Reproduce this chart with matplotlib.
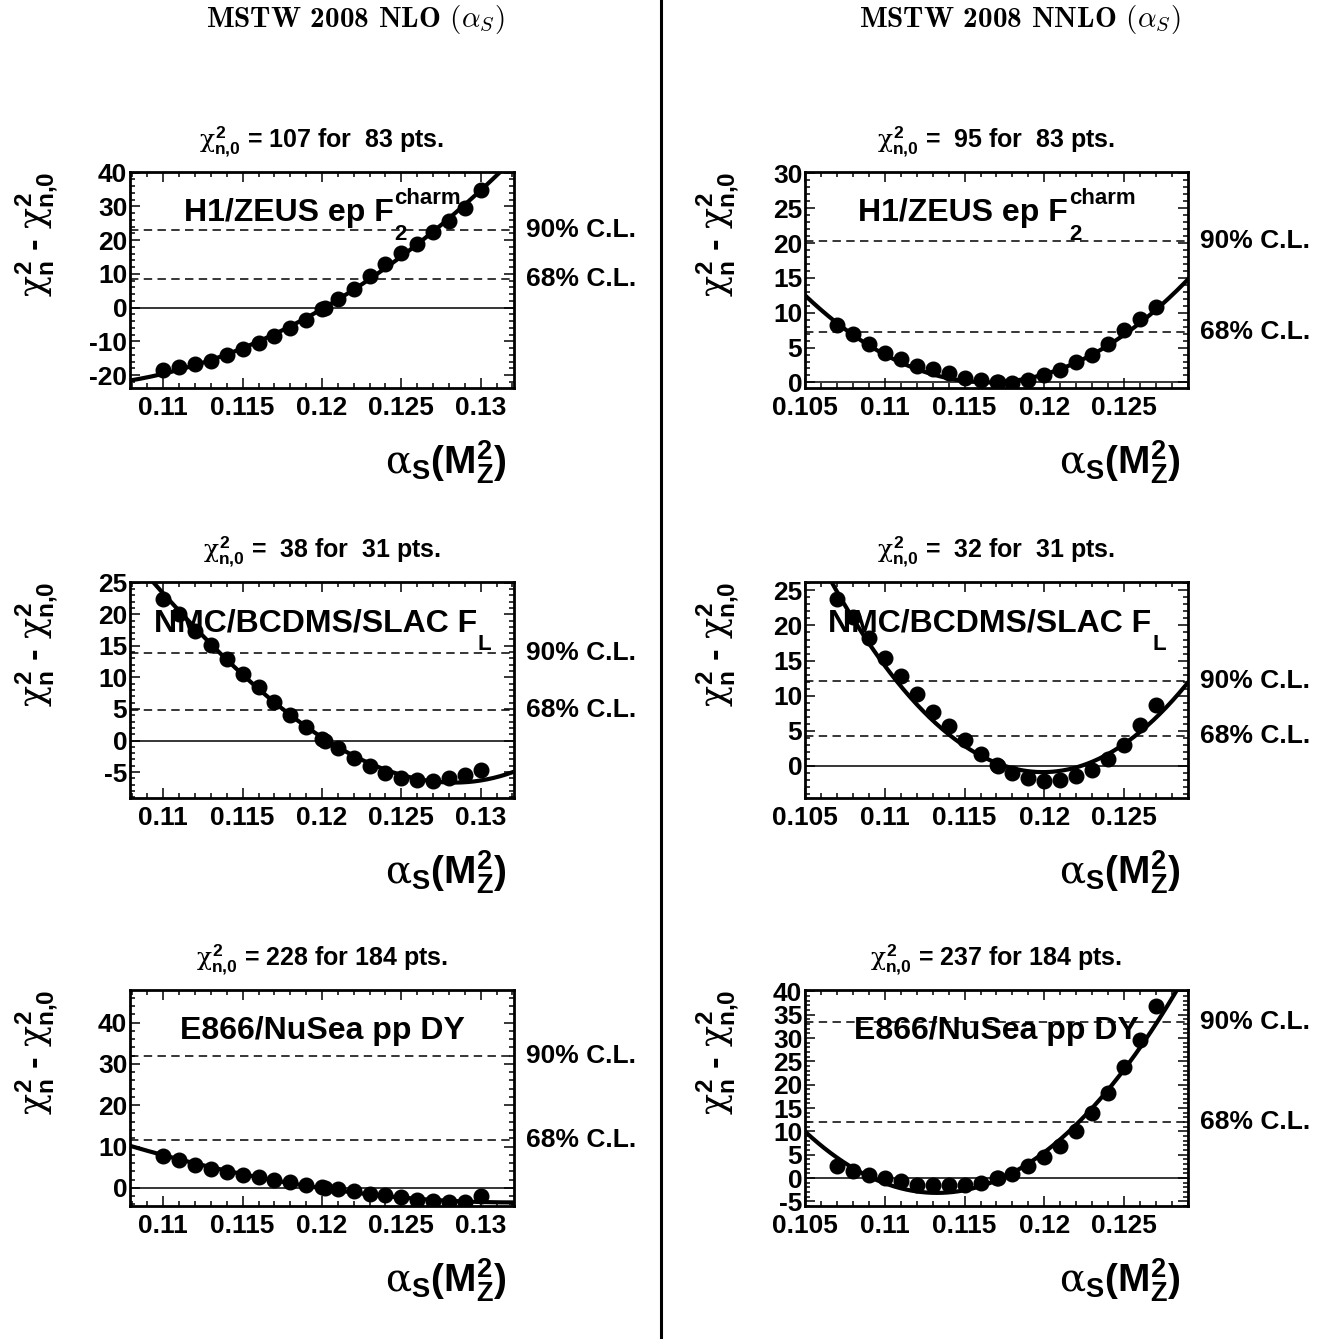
import numpy as np
import matplotlib
matplotlib.use('Agg')
import matplotlib.pyplot as plt
from matplotlib.ticker import MultipleLocator, FixedLocator, FixedFormatter
from matplotlib.transforms import IdentityTransform

plt.rcParams['font.family'] = ['Liberation Sans', 'DejaVu Sans']
plt.rcParams['font.weight'] = 'bold'
plt.rcParams['mathtext.fontset'] = 'custom'
plt.rcParams['mathtext.rm'] = 'Liberation Sans:bold'
plt.rcParams['mathtext.bf'] = 'Liberation Sans:bold'
plt.rcParams['mathtext.sf'] = 'Liberation Sans:bold'
plt.rcParams['mathtext.it'] = 'DejaVu Serif:weight=normal:style=normal'
plt.rcParams['axes.unicode_minus'] = False

# alpha_S scan points (best fit value included)
nlo_alpha = [0.110, 0.111, 0.112, 0.113, 0.114, 0.115, 0.116, 0.117, 0.118, 0.119,
             0.120, 0.1202, 0.121, 0.122, 0.123, 0.124, 0.125, 0.126, 0.127, 0.128,
             0.129, 0.130]
nnlo_alpha = [0.107, 0.108, 0.109, 0.110, 0.111, 0.112, 0.113, 0.114, 0.115, 0.116,
              0.117, 0.1171, 0.118, 0.119, 0.120, 0.121, 0.122, 0.123, 0.124, 0.125,
              0.126, 0.127]

# delta chi2 values
nlo_h1 = [-18.5, -17.7, -16.7, -15.8, -14.1, -12.3, -10.6, -8.4, -5.9, -3.6,
          -0.5, 0.0, 2.7, 5.6, 9.4, 12.8, 16.1, 19.0, 22.4, 25.8, 29.4, 35.0]
nnlo_h1 = [8.2, 6.9, 5.5, 4.2, 3.4, 2.4, 1.9, 1.3, 0.7, 0.3,
           0.1, 0.0, -0.1, 0.4, 1.0, 1.8, 2.9, 3.9, 5.5, 7.5, 9.1, 10.8]
nlo_fl = [22.4, 20.1, 17.4, 15.2, 12.9, 10.6, 8.5, 6.1, 4.1, 2.1,
          0.2, 0.0, -1.2, -2.8, -4.1, -5.1, -5.9, -6.2, -6.4, -5.9, -5.4, -4.7]
nnlo_fl = [23.8, 21.2, 18.2, 15.4, 12.8, 10.2, 7.7, 5.6, 3.6, 1.7,
           0.1, 0.0, -1.0, -1.8, -2.2, -2.1, -1.5, -0.6, 0.9, 3.0, 5.8, 8.7]
nlo_dy = [7.8, 6.8, 5.6, 4.6, 3.9, 3.2, 2.6, 2.0, 1.4, 0.8,
          0.2, 0.0, -0.4, -0.8, -1.4, -1.8, -2.2, -3.0, -3.2, -3.4, -3.4, -2.0]
nnlo_dy = [2.5, 1.4, 0.6, 0.0, -0.7, -1.4, -1.6, -1.6, -1.4, -1.1,
           0.1, 0.0, 0.9, 2.5, 4.4, 6.8, 10.1, 13.9, 18.2, 23.9, 29.6, 36.8]

# samples
nlo_h1_cx = [0.108, 0.115, 0.1202, 0.125, 0.131]
nlo_h1_cy = [-21.4, -12.2, 0.0, 15.6, 39.0]
nnlo_h1_cx = [0.105, 0.110, 0.1165, 0.123, 0.129]
nnlo_h1_cy = [12.5, 4.0, 0.0, 4.0, 14.8]
nlo_fl_cx = [0.1093, 0.115, 0.1202, 0.125, 0.1275, 0.132]
nlo_fl_cy = [25.2, 10.6, 0.0, -5.6, -6.3, -5.1]
nnlo_fl_cx = [0.1066, 0.113, 0.120, 0.125, 0.129]
nnlo_fl_cy = [26.4, 6.6, -0.9, 2.9, 12.0]
nlo_dy_cx = [0.108, 0.114, 0.1202, 0.126, 0.1318]
nlo_dy_cy = [10.1, 4.0, 0.0, -2.8, -3.5]
nnlo_dy_cx = [0.105, 0.1133, 0.120, 0.125, 0.1285]
nnlo_dy_cy = [10.1, -3.4, 5.0, 24.6, 40.7]

chi2_nlo = [107, 38, 228]
chi2_nnlo = [95, 32, 237]
npts = [83, 31, 184]
cl90_nlo = [22.9, 13.8, 32.0]
cl68_nlo = [8.4, 4.8, 11.5]
cl90_nnlo = [20.3, 12.1, 33.4]
cl68_nnlo = [7.3, 4.2, 12.0]
# dataset name: base text, superscript, subscript
names = [('H1/ZEUS ep F', 'charm', '2'),
         ('NMC/BCDMS/SLAC F', None, 'L'),
         ('E866/NuSea pp DY', None, None)]

nlo_xticks = [0.11, 0.115, 0.12, 0.125, 0.13]
nlo_xlabels = ['0.11', '0.115', '0.12', '0.125', '0.13']
nnlo_xticks = [0.105, 0.11, 0.115, 0.12, 0.125]
nnlo_xlabels = ['0.105', '0.11', '0.115', '0.12', '0.125']

W, H = 1333, 1339
fig = plt.figure(figsize=(W / 100, H / 100), dpi=100)
renderer = fig.canvas.get_renderer()


def text_width(s, size):
    t = fig.text(0, 0, s, fontsize=size, fontweight='bold')
    w = t.get_window_extent(renderer).width
    t.remove()
    return w


def dataset_label(ax, yfrac, base, sup, sub, size=23, ssize=16):
    # ROOT style label: superscript high, subscript low, all centred
    wb = text_width(base, size)
    ws = max(text_width(sup, ssize) if sup else 0,
             text_width(sub, ssize) if sub else 0)
    cx, cy = ax.transAxes.transform((0.5, yfrac))
    x0 = cx - (wb + ws) / 2
    kw = dict(transform=IdentityTransform(), ha='left', va='baseline',
              fontweight='bold')
    fig.text(x0, cy, base, fontsize=size, **kw)
    if sup:
        fig.text(x0 + wb + 1, cy + 17, sup, fontsize=ssize, **kw)
    if sub:
        fig.text(x0 + wb + 1, cy - 19, sub, fontsize=ssize, **kw)


def panel(rect, alpha, dchi, cx, cy, deg, chi0, n, name, c90, c68,
          xlim, ylim, xt, xl, ymaj, ymin, ylab_off):
    ax = fig.add_axes(rect)
    ax.set_xlim(*xlim)
    ax.set_ylim(*ylim)
    ax.axhline(0, color='black', lw=1.1, zorder=1)
    for c in (c90, c68):
        ax.axhline(c, color='black', lw=1.1, ls=(0, (5.5, 3.5)), zorder=1)
    coef = np.polyfit(cx, cy, deg)
    xs = np.linspace(xlim[0], xlim[1], 300)
    ax.plot(xs, np.polyval(coef, xs), color='black', lw=3.0, zorder=2)
    ax.plot(alpha, dchi, 'o', color='black', ms=10.5, zorder=3)

    ax.xaxis.set_major_locator(FixedLocator(xt))
    ax.xaxis.set_major_formatter(FixedFormatter(xl))
    ax.xaxis.set_minor_locator(MultipleLocator(0.001))
    ax.yaxis.set_major_locator(MultipleLocator(ymaj))
    ax.yaxis.set_minor_locator(MultipleLocator(ymin))
    ax.yaxis.set_major_formatter(matplotlib.ticker.FormatStrFormatter('%d'))
    ax.tick_params(which='both', direction='in', top=True, right=True,
                   width=1.1, labelsize=19)
    ax.tick_params(which='major', length=7)
    ax.tick_params(which='minor', length=3.6)
    ax.tick_params(axis='x', pad=6)
    ax.tick_params(axis='y', pad=2)
    for lab in ax.get_xticklabels() + ax.get_yticklabels():
        lab.set_fontweight('bold')
    for s in ax.spines.values():
        s.set_linewidth(2.0)

    ax.annotate(r'$\chi^{2}_{\mathrm{n{,}0}}$' + ' = %3d for %3d pts.' % (chi0, n),
                xy=(0.5, 1.0), xycoords='axes fraction', xytext=(0, 17),
                textcoords='offset points', ha='center', va='baseline',
                fontsize=18, fontweight='bold')
    dataset_label(ax, 0.772, *name)
    for c, t in ((c90, '90% C.L.'), (c68, '68% C.L.')):
        ax.annotate(t, xy=(1.0, c), xycoords=('axes fraction', 'data'),
                    xytext=(9, 0), textcoords='offset points', ha='left',
                    va='center', fontsize=19, fontweight='bold',
                    annotation_clip=False)
    ax.annotate(r'$\alpha_{\mathrm{S}}$(M$^{2}_{\mathrm{Z}}$)', xy=(1.0, 0.0),
                xycoords='axes fraction', xytext=(-5, -62),
                textcoords='offset points', ha='right', va='baseline',
                fontsize=28, fontweight='bold')
    ax.annotate(r'$\chi^{2}_{\mathrm{n}}$ - $\chi^{2}_{\mathrm{n{,}0}}$',
                xy=(0.0, 1.0), xycoords='axes fraction', xytext=(ylab_off, 0),
                textcoords='offset points', ha='center', va='top',
                rotation=90, fontsize=25, fontweight='bold')
    return ax


row_tops = [172, 582, 990]
ah = 216
lx, lw_ = 130, 384
rx, rw = 805, 383

nlo_sets = [(nlo_h1, nlo_h1_cx, nlo_h1_cy, 2, (-23.8, 40.2), 10, 2),
            (nlo_fl, nlo_fl_cx, nlo_fl_cy, 3, (-9.1, 25.1), 5, 1),
            (nlo_dy, nlo_dy_cx, nlo_dy_cy, 2, (-4.4, 47.9), 10, 2)]
nnlo_sets = [(nnlo_h1, nnlo_h1_cx, nnlo_h1_cy, 2, (-0.8, 30.2), 5, 1),
             (nnlo_fl, nnlo_fl_cx, nnlo_fl_cy, 2, (-4.6, 26.2), 5, 1),
             (nnlo_dy, nnlo_dy_cx, nnlo_dy_cy, 2, (-6.0, 40.3), 5, 1)]

for i in range(3):
    bottom = 1 - (row_tops[i] + ah) / H
    d, cx, cy, deg, yl, ymaj, ymin = nlo_sets[i]
    panel([lx / W, bottom, lw_ / W, ah / H], nlo_alpha, d, cx, cy, deg,
          chi2_nlo[i], npts[i], names[i], cl90_nlo[i], cl68_nlo[i],
          (0.1079, 0.1321), yl, nlo_xticks, nlo_xlabels, ymaj, ymin, -67)
    d, cx, cy, deg, yl, ymaj, ymin = nnlo_sets[i]
    panel([rx / W, bottom, rw / W, ah / H], nnlo_alpha, d, cx, cy, deg,
          chi2_nnlo[i], npts[i], names[i], cl90_nnlo[i], cl68_nnlo[i],
          (0.105, 0.129), yl, nnlo_xticks, nnlo_xlabels, ymaj, ymin, -63)

# column headings and separator
fig.text(355 / W, 1 - 20 / H, r'MSTW 2008 NLO $(\alpha_S)$', family='cmb10',
         ha='center', va='center', fontsize=21, math_fontfamily='cm')
fig.text(1020 / W, 1 - 20 / H, r'MSTW 2008 NNLO $(\alpha_S)$', family='cmb10',
         ha='center', va='center', fontsize=21, math_fontfamily='cm')
fig.add_artist(plt.Line2D([661 / W, 661 / W], [0, 1], color='black', lw=2.2,
                          transform=fig.transFigure))

fig.savefig('out.png', dpi=100)
